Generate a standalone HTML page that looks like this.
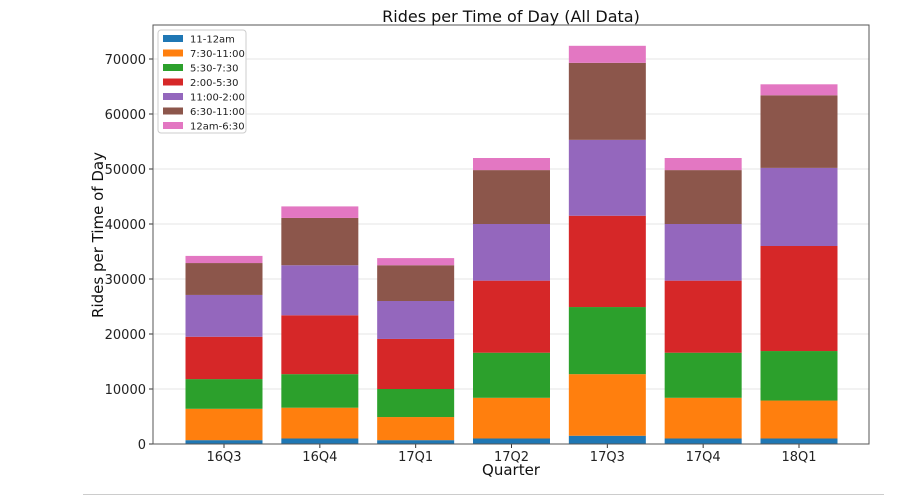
<!DOCTYPE html>
<html><head><meta charset="utf-8"><style>
body{margin:0;background:#fff;font-family:"Liberation Sans","DejaVu Sans",sans-serif}
svg text{font-family:"DejaVu Sans","Liberation Sans",sans-serif}
</style></head><body>
<svg id="c" width="902" height="496"></svg>
<script>
const categories=["16Q3","16Q4","17Q1","17Q2","17Q3","17Q4","18Q1"];
const seriesNames=["11-12am","7:30-11:00","5:30-7:30","2:00-5:30","11:00-2:00","6:30-11:00","12am-6:30"];
const s0=[700,1000,700,1000,1500,1000,1000];
const s1=[5700,5600,4200,7400,11200,7400,6900];
const s2=[5400,6100,5100,8200,12200,8200,9000];
const s3=[7700,10700,9100,13100,16600,13100,19100];
const s4=[7600,9100,6900,10300,13800,10300,14200];
const s5=[5800,8600,6500,9800,14000,9800,13200];
const s6=[1300,2100,1300,2200,3100,2200,2000];
const series=[s0,s1,s2,s3,s4,s5,s6];
const colors=["#1f77b4","#ff7f0e","#2ca02c","#d62728","#9467bd","#8c564b","#e377c2"];
const yTicks=[0,10000,20000,30000,40000,50000,60000,70000];
const NS="http://www.w3.org/2000/svg";
const svg=document.getElementById('c');
const L=153,R=869,T=25,B=444;
const y=v=>B-v*55/10000;
const step=(799-224)/(categories.length-1);
const x=i=>224+step*i;
function mk(t,a,p){const e=document.createElementNS(NS,t);for(const k in a)e.setAttribute(k,a[k]);(p||svg).appendChild(e);return e;}
function tx(s,a){const e=mk('text',a);e.textContent=s;return e;}
yTicks.forEach(v=>{
 const g=mk('line',{x1:L,x2:R,y1:y(v),y2:y(v),stroke:'#e5e5e5','stroke-width':1});
 
 
 mk('line',{x1:L-4,x2:L,y1:y(v),y2:y(v),stroke:'#333'});
 const t=tx(String(v),{x:L-7,y:y(v)+5,'text-anchor':'end','font-size':13,fill:'#222'});
 
 
});
categories.forEach((c,i)=>{
 let cum=0;
 series.forEach((s,k)=>{
  const r=mk('rect',{x:x(i)-38.5,width:77,y:y(cum+s[i]),height:y(cum)-y(cum+s[i]),fill:colors[k]});
  
  
  cum+=s[i];
 });
 mk('line',{x1:x(i),x2:x(i),y1:B,y2:B+4,stroke:'#333'});
 const t=tx(c,{x:x(i),y:B+17,'text-anchor':'middle','font-size':13,fill:'#222'});
 
 
});
const fr=mk('rect',{x:L,y:T,width:R-L,height:B-T,fill:'none',stroke:'#555','stroke-width':1});


const ti=tx('Rides per Time of Day (All Data)',{x:(L+R)/2,y:22,'text-anchor':'middle','font-size':16,fill:'#111'});


const xt=tx('Quarter',{x:(L+R)/2,y:475,'text-anchor':'middle','font-size':15,fill:'#111'});


const yt=tx('Rides per Time of Day',{x:0,y:0,'text-anchor':'middle','font-size':15,fill:'#111',transform:'translate(103,235) rotate(-90)'});


const lg=mk('rect',{x:158,y:30,width:88,height:103,fill:'#fff',stroke:'#ccc',rx:3});


seriesNames.forEach((n,k)=>{
 const yy=39+k*14.5;
 mk('rect',{x:163,y:yy-4,width:20,height:7,fill:colors[k]});
 const t=tx(n,{x:190,y:yy+3.5,'font-size':10,fill:'#222'});
 
 
});
const bl=mk('line',{x1:83,x2:884,y1:494.5,y2:494.5,stroke:'#ccc'});


</script>
</body></html>
